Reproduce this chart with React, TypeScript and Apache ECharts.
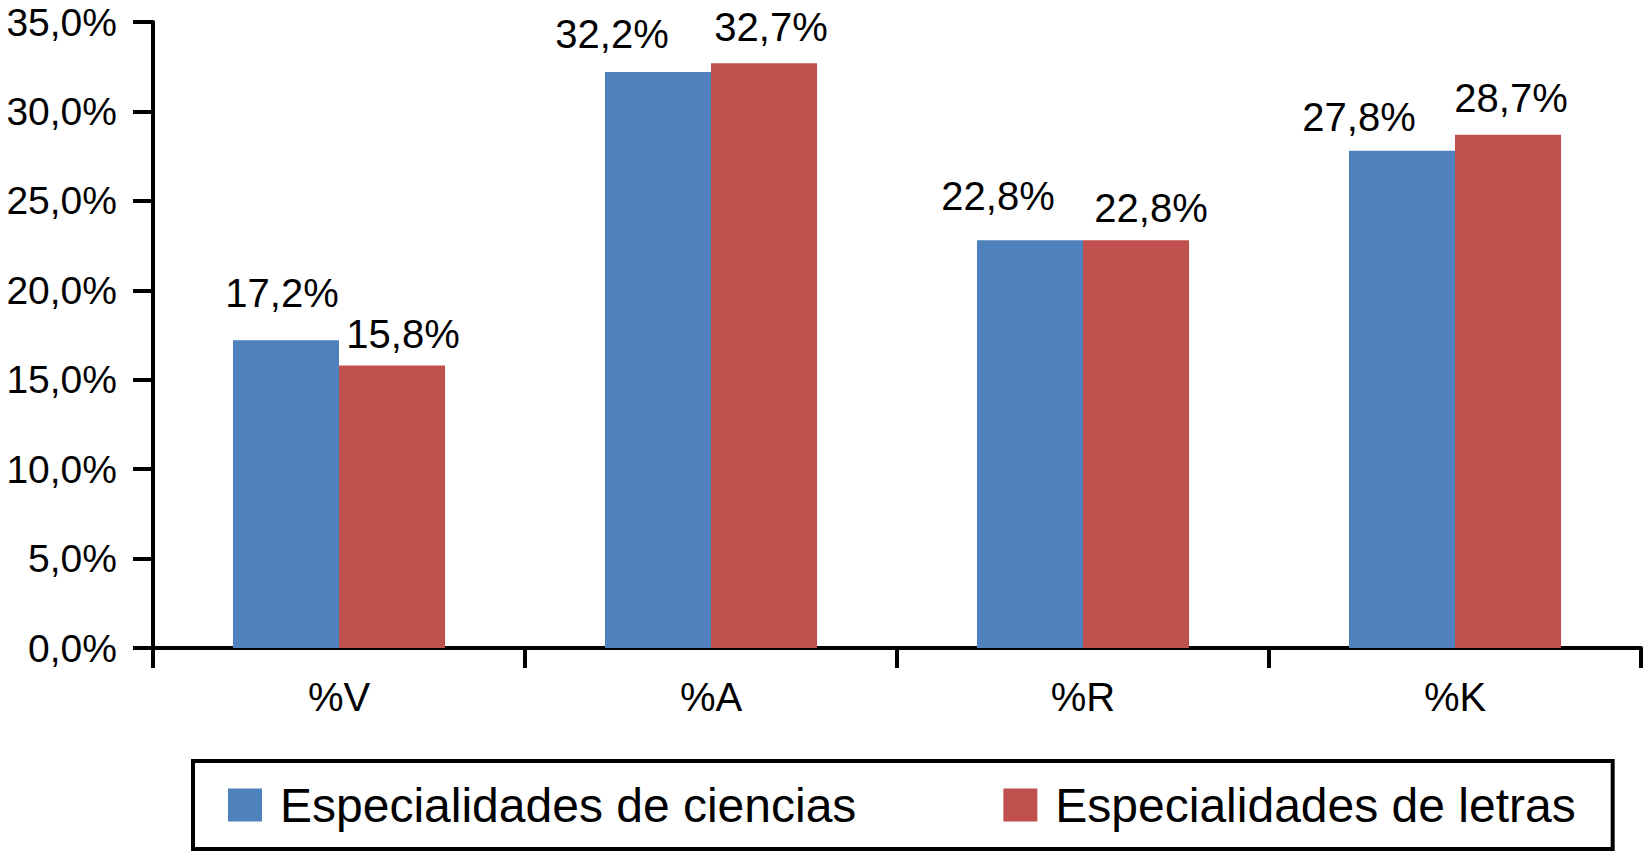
import React, { useEffect, useRef } from "react";
import * as echarts from "echarts";

const categories = ["%V", "%A", "%R", "%K"];
const cienciasValues = [17.2, 32.2, 22.8, 27.8];
const letrasValues = [15.8, 32.7, 22.8, 28.7];
const seriesNames = ["Especialidades de ciencias", "Especialidades de letras"];
const yTicks = { min: 0, max: 35, interval: 5 };

// label placement (style only)
const cienciasLabelOffsets = [[-4, -27], [-46, -18], [-32, -24], [-43, -14]];
const letrasLabelOffsets = [[11, -11], [7, -16], [15, -12], [3, -17]];

const FONT = "'Liberation Sans', Arial, Helvetica, sans-serif";
const fmt = (v: number) => v.toFixed(1).replace(".", ",") + "%";

export default function App() {
  const ref = useRef<HTMLDivElement>(null);
  useEffect(() => {
    if (!ref.current) return;
    const chart = echarts.init(ref.current, undefined, { renderer: "svg" });
    const mkData = (vals: number[], offs: number[][]) =>
      vals.map((v, i) => ({ value: v, label: { offset: offs[i] } }));
    const labelBase = {
      show: true,
      position: "top",
      distance: 0,
      color: "#000",
      fontSize: 40,
      lineHeight: 40,
      fontFamily: FONT,
      formatter: (p: any) => fmt(p.value),
    };
    chart.setOption({
      animation: false,
      backgroundColor: "#fff",
      grid: { left: 153, right: 3, top: 19, bottom: 204, containLabel: false },
      legend: {
        left: 193,
        top: 761,
        padding: [20, 37, 20, 35],
        borderColor: "#000",
        borderWidth: 4,
        itemWidth: 34,
        itemHeight: 33,
        itemGap: 147,
        icon: "rect",
        textStyle: {
          fontSize: 48,
          lineHeight: 48,
          color: "#000",
          fontFamily: FONT,
          padding: [0, 0, 0, 13],
        },
        data: seriesNames,
      },
      xAxis: {
        type: "category",
        data: categories,
        axisLine: { lineStyle: { color: "#000", width: 4 } },
        axisTick: { show: true, length: 20, lineStyle: { color: "#000", width: 4 } },
        axisLabel: { margin: 29, fontSize: 40, lineHeight: 40, color: "#000", fontFamily: FONT },
      },
      yAxis: {
        type: "value",
        min: yTicks.min,
        max: yTicks.max,
        interval: yTicks.interval,
        axisLine: { show: true, lineStyle: { color: "#000", width: 4 } },
        axisTick: { show: true, length: 20, lineStyle: { color: "#000", width: 4 } },
        splitLine: { show: false },
        axisLabel: {
          margin: 36,
          fontSize: 39,
          lineHeight: 36,
          padding: [8, 0, 0, 0],
          color: "#000",
          fontFamily: FONT,
          formatter: (v: number) => fmt(v),
        },
      },
      series: [
        {
          name: seriesNames[0],
          type: "bar",
          data: mkData(cienciasValues, cienciasLabelOffsets),
          barWidth: "28.5%",
          barGap: "0%",
          itemStyle: { color: "#4F81BD" },
          label: labelBase,
        },
        {
          name: seriesNames[1],
          type: "bar",
          data: mkData(letrasValues, letrasLabelOffsets),
          barWidth: "28.5%",
          barGap: "0%",
          itemStyle: { color: "#C0504D" },
          label: labelBase,
        },
      ],
    });
    return () => chart.dispose();
  }, []);
  return (
    <div
      ref={ref}
      style={{ position: "absolute", left: 0, top: 0, width: 1644, height: 852, background: "#fff" }}
    />
  );
}
